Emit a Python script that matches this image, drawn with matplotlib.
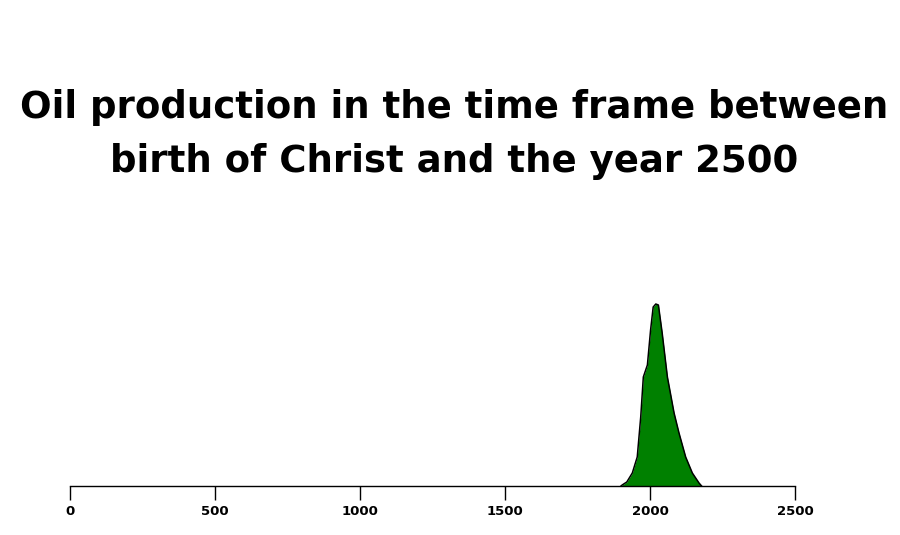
import matplotlib.pyplot as plt

# approximate oil production curve (arbitrary units)
years = [1900, 1904, 1920, 1939, 1956, 1968, 1977, 1991, 2002, 2011, 2020,
         2029, 2042, 2060, 2083, 2100, 2123, 2146, 2169, 2178]
production = [0, 1, 4, 13, 29, 69, 109, 121, 156, 179, 182,
              181, 153, 109, 73, 53, 29, 13, 3, 0]
ticks = [0, 500, 1000, 1500, 2000, 2500]
title_lines = ["Oil production in the time frame between",
               "birth of Christ and the year 2500"]

W, H = 900, 535
fig = plt.figure(figsize=(9, 5.35), dpi=100)
ax = fig.add_axes([70 / W, (H - 486) / H, 725 / W, 200 / H])

ax.fill_between(years, production, 0, color="#008000", linewidth=0)
ax.plot(years, production, color="black", linewidth=1.1)

ax.set_xlim(0, 2500)
ax.set_ylim(0, 200)
ax.set_yticks([])
for s in ["top", "right", "left"]:
    ax.spines[s].set_visible(False)
ax.spines["bottom"].set_linewidth(1.0)
ax.set_xticks(ticks)
ax.set_xticklabels([str(t) for t in ticks], fontsize=9.5, fontweight="bold",
                   family="DejaVu Sans")
ax.tick_params(axis="x", length=10, width=1.0, pad=4)

# two title lines, placed at their baselines
for line, base in zip(title_lines, [118.5, 172]):
    fig.text(0.505, 1 - base / H, line, ha="center", va="baseline",
             fontsize=26.7, fontweight="bold", family="DejaVu Sans")

fig.savefig("out.png", dpi=100)
